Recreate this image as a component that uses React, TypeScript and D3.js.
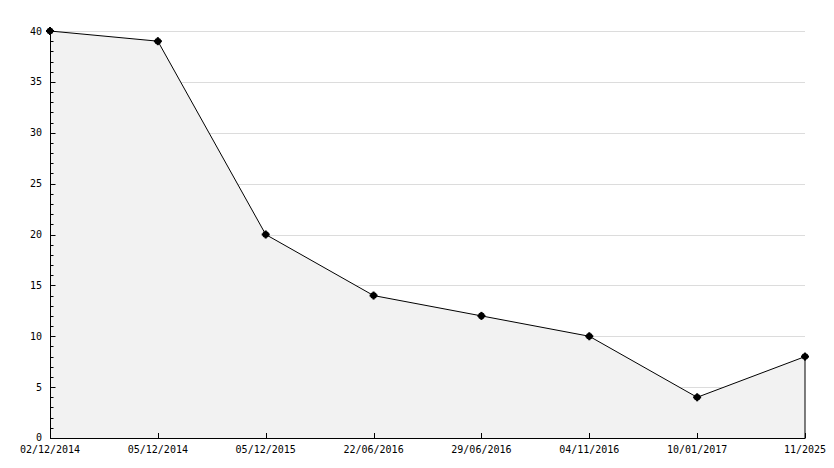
import React from "react";
import * as d3 from "d3";

const categories = ["02/12/2014", "05/12/2014", "05/12/2015", "22/06/2016", "29/06/2016", "04/11/2016", "10/01/2017", "11/2025"];
const values = [40, 39, 20, 14, 12, 10, 4, 8];
const yMajorTicks = [0, 5, 10, 15, 20, 25, 30, 35, 40];

const W = 834, H = 468;
const left = 50, right = 805, top = 31, bottom = 438;

export default function App() {
  const x = d3.scalePoint<string>().domain(categories).range([left, right]);
  const y = d3.scaleLinear().domain([0, 40]).range([bottom, top]);
  const pts: [number, number][] = values.map((v, i) => [x(categories[i])!, y(v)]);
  const area = d3.area<[number, number]>().x(d => d[0]).y0(y(0)).y1(d => d[1])(pts)!;
  const line = d3.line()(pts)!;
  const minor = d3.range(0, 41, 1);
  const font = "'DejaVu Sans Mono', monospace";
  return (
    <svg width={W} height={H} style={{ position: "absolute", left: 0, top: 0, background: "#fff" }}>
      {yMajorTicks.filter(t => t > 0).map(t => (
        <line key={"g" + t} x1={left} x2={right} y1={Math.round(y(t)) + 0.5} y2={Math.round(y(t)) + 0.5} stroke="#dcdcdc" strokeWidth={1} />
      ))}
      <path d={area} fill="#f2f2f2" />
      <path d={line} fill="none" stroke="#000" strokeWidth={1} />
      <line x1={pts[pts.length - 1][0]} x2={pts[pts.length - 1][0]} y1={pts[pts.length - 1][1]} y2={bottom} stroke="#000" />
      <line x1={left + 0.5} x2={left + 0.5} y1={top} y2={bottom + 0.5} stroke="#000" />
      <line x1={left} x2={right + 0.5} y1={bottom + 0.5} y2={bottom + 0.5} stroke="#000" />
      {minor.map(t => {
        const yy = Math.round(y(t)) + 0.5;
        const len = t % 5 === 0 ? 5 : 3;
        return <line key={"m" + t} x1={left} x2={left + len + 0.5} y1={yy} y2={yy} stroke="#000" />;
      })}
      {categories.map(c => (
        <line key={"xt" + c} x1={Math.round(x(c)!) + 0.5} x2={Math.round(x(c)!) + 0.5} y1={bottom} y2={bottom - 5} stroke="#000" />
      ))}
      {yMajorTicks.map(t => (
        <text key={"yl" + t} x={42} y={y(t) + (t === 0 ? -1 : 0)} dy="0.35em" textAnchor="end" fontFamily={font} fontSize={10} fill="#000">{t}</text>
      ))}
      {categories.map(c => (
        <text key={"xl" + c} x={x(c)!} y={449} dy="0.35em" textAnchor="middle" fontFamily={font} fontSize={10} fill="#000">{c}</text>
      ))}
      {pts.map((p, i) => (
        <g key={"pt" + i} transform={`translate(${p[0]},${p[1]})`}>
          <circle r={3.3} fill="#000" />
          <rect x={-1} y={-4} width={2} height={8} fill="#000" />
          <rect x={-4} y={-1} width={8} height={2} fill="#000" />
        </g>
      ))}
    </svg>
  );
}
